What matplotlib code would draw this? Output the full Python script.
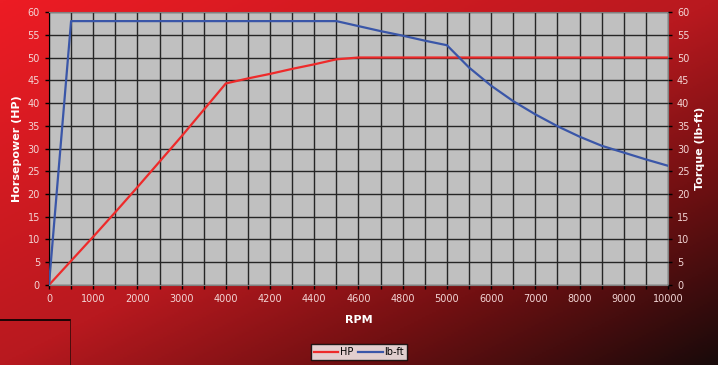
import numpy as np
import matplotlib
matplotlib.use("Agg")
import matplotlib.pyplot as plt
from matplotlib.colors import LinearSegmentedColormap
from matplotlib.lines import Line2D

# category axis: every gridline is a data point, labels on every other one
rpm = [0, 500, 1000, 1500, 2000, 2500, 3000, 3500, 4000, 4100, 4200, 4300, 4400,
       4500, 4600, 4700, 4800, 4900, 5000, 5500, 6000, 6500, 7000, 7500, 8000,
       8500, 9000, 9500, 10000]
hp = [0, 5.3, 10.6, 16, 21.5, 27.1, 32.7, 38.5, 44.3, 45.4, 46.4, 47.5, 48.5,
      49.6, 50, 50, 50, 50, 50, 50, 50, 50, 50, 50, 50, 50, 50, 50, 50]
torque = [0, 58, 58, 58, 58, 58, 58, 58, 58, 58, 58, 58, 58,
          58, 56.9, 55.8, 54.8, 53.7, 52.7, 47.8, 43.8, 40.4, 37.5, 34.9, 32.6,
          30.6, 29.1, 27.6, 26.2]
y_ticks = list(range(0, 61, 5))

fig = plt.figure(figsize=(7.18, 3.65), dpi=100)

# red -> black diagonal background
bg = fig.add_axes([0, 0, 1, 1], zorder=-10)
xx, yy = np.meshgrid(np.linspace(0, 1, 400), np.linspace(0, 1, 200))
t = (xx + yy) / 2
cmap = LinearSegmentedColormap.from_list(
    "bg", [(0, "#ed1c24"), (0.5, "#b8191f"), (0.73, "#731012"), (1, "#190a0a")])
bg.imshow(t, cmap=cmap, aspect="auto", extent=[0, 1, 0, 1], origin="upper")
bg.set_axis_off()

ax = fig.add_axes([0.0682, 0.2192, 0.8622, 0.7479])
ax.set_facecolor("#c0c0c0")
x = np.arange(len(rpm))
ax.plot(x, hp, color="#ee2a2a", lw=1.6, label="HP", zorder=3)
ax.plot(x, torque, color="#3a56a8", lw=1.6, label="lb-ft", zorder=3)

ax.set_xlim(0, len(rpm) - 1)
ax.set_ylim(0, 60)
ax.set_xticks(x)
ax.set_xticklabels([str(r) if i % 2 == 0 else "" for i, r in enumerate(rpm)])
ax.set_yticks(y_ticks)
ax.grid(True, color="#262626", lw=1.0)
ax.set_axisbelow(True)

lbl_color = "#f3d6d6"
ax.tick_params(axis="both", colors="black", labelcolor=lbl_color, labelsize=7,
               length=3, width=1)
for s in ax.spines.values():
    s.set_color("#808080")
ax.spines["left"].set_color("black")

ax2 = ax.twinx()
ax2.set_ylim(0, 60)
ax2.set_yticks(y_ticks)
ax2.tick_params(axis="y", colors="black", labelcolor=lbl_color, labelsize=7,
                length=3, width=1)
for s in ax2.spines.values():
    s.set_visible(False)

ax.set_ylabel("Horsepower (HP)", color="white", fontsize=8, fontweight="bold")
ax2.set_ylabel("Torque (lb-ft)", color="white", fontsize=8, fontweight="bold",
               rotation=90)
ax.set_xlabel("RPM", color="white", fontsize=8, fontweight="bold", labelpad=8)

leg = fig.legend(loc="center", bbox_to_anchor=(0.5, 1 - 352 / 365), ncol=2,
                 fontsize=7, frameon=True, fancybox=False, handlelength=2.5,
                 handletextpad=0.2, columnspacing=0.5, borderpad=0.3)
leg.get_frame().set_edgecolor("black")
leg.get_frame().set_facecolor("white")

# stray frame lines at lower left
fig.add_artist(Line2D([0, 70 / 718], [1 - 320 / 365] * 2, color="black", lw=1.2))
fig.add_artist(Line2D([70 / 718] * 2, [0, 1 - 320 / 365], color="#3a0a0a", lw=0.6))

fig.savefig("out.png", dpi=100)
